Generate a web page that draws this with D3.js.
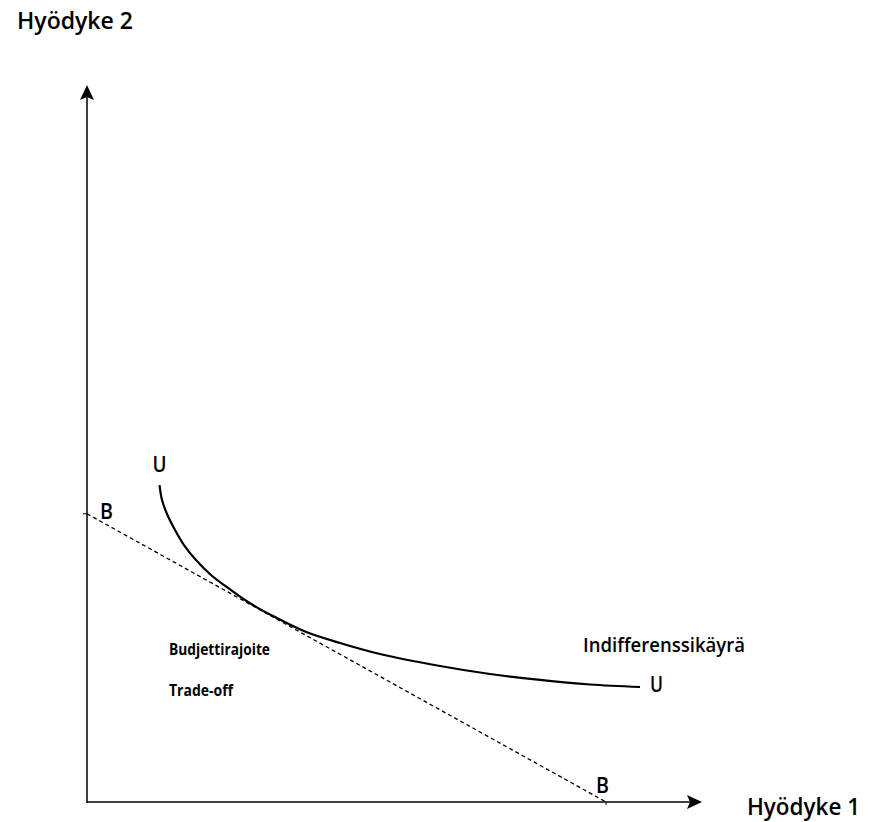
<!DOCTYPE html>
<html>
<head>
<meta charset="utf-8">
<script src="https://cdn.jsdelivr.net/npm/d3@7"></script>
<style>
  html, body { margin: 0; padding: 0; background: #fff; }
  svg { display: block; }
  text { font-family: "Open Sans", "Noto Sans", sans-serif; fill: #000; }
</style>
</head>
<body>
<svg id="chart" width="877" height="822"></svg>
<script>
// ---- data ----
const axisTitles = ["Hyödyke 1", "Hyödyke 2"];
const curveX = [11.79, 12.20, 13.01, 14.31, 15.77, 17.72, 20.16, 22.93, 26.18, 30.08, 35.45, 41.14, 47.64, 57.40, 65.53, 73.66, 81.79, 89.92];
const curveY = [44.21, 42.12, 40.17, 37.94, 35.84, 33.75, 31.66, 29.85, 27.89, 26.01, 23.78, 22.18, 20.64, 18.97, 17.85, 17.02, 16.39, 16.04];
const budgetX = [0, 84.4];
const budgetY = [40.2, 0];
const curveLabel = "Indifferenssikäyrä";
const budgetLabels = ["Budjettirajoite", "Trade-off"];
const pointLabels = ["U", "B"];

// ---- scales ----
const x = d3.scaleLinear().domain([0, 100]).range([87, 702]);
const y = d3.scaleLinear().domain([0, 100]).range([802, 85]);

const svg = d3.select("#chart");

// axes
const xMax = 100, yMax = 100;
svg.append("line").attr("x1", x(0)).attr("y1", y(0)).attr("x2", x(xMax) - 10).attr("y2", y(0))
  .attr("stroke", "#000").attr("stroke-width", 1.5);
svg.append("line").attr("x1", x(0)).attr("y1", y(0) + 1).attr("x2", x(0)).attr("y2", y(yMax) + 10)
  .attr("stroke", "#000").attr("stroke-width", 1.5);
// arrowheads
svg.append("path")
  .attr("d", `M${x(xMax)},${y(0)} L${x(xMax) - 15},${y(0) - 7} L${x(xMax) - 12},${y(0)} L${x(xMax) - 15},${y(0) + 7} Z`)
  .attr("fill", "#000");
svg.append("path")
  .attr("d", `M${x(0)},${y(yMax)} L${x(0) - 7},${y(yMax) + 15} L${x(0)},${y(yMax) + 12} L${x(0) + 7},${y(yMax) + 15} Z`)
  .attr("fill", "#000");

// small ticks where budget line meets axes
svg.append("line").attr("x1", x(0) - 4).attr("x2", x(0)).attr("y1", y(budgetY[0])).attr("y2", y(budgetY[0]))
  .attr("stroke", "#000").attr("stroke-width", 1);
svg.append("line").attr("x1", x(budgetX[1])).attr("x2", x(budgetX[1])).attr("y1", y(0)).attr("y2", y(0) + 3)
  .attr("stroke", "#000").attr("stroke-width", 1);

// budget line
const budget = budgetX.map((d, i) => [d, budgetY[i]]);
svg.append("path").datum(budget)
  .attr("d", d3.line().x(d => x(d[0])).y(d => y(d[1])))
  .attr("fill", "none").attr("stroke", "#000").attr("stroke-width", 1.3)
  .attr("stroke-dasharray", "4,3");

// indifference curve
const curve = curveX.map((d, i) => [d, curveY[i]]);
svg.append("path").datum(curve)
  .attr("d", d3.line().x(d => x(d[0])).y(d => y(d[1])).curve(d3.curveCatmullRom.alpha(0.5)))
  .attr("fill", "none").attr("stroke", "#000").attr("stroke-width", 2.2);

function label(tx, ty, str, size, weight, len) {
  const t = svg.append("text").attr("x", tx).attr("y", ty)
    .attr("font-size", size).attr("font-weight", weight).text(str);
  if (len) t.attr("textLength", len).attr("lengthAdjust", "spacingAndGlyphs");
  return t;
}

// axis titles
label(17, 29, axisTitles[1], 24, 600, 116);
label(747, 815, axisTitles[0], 24, 600, 113);

// curve labels
const first = curve[0], last = curve[curve.length - 1];
label(x(first[0]) - 7, y(first[1]) - 13, pointLabels[0], 22, 600, 14);
label(x(last[0]) + 10, y(last[1]) + 5, pointLabels[0], 21, 600, 13);
label(583, 652, curveLabel, 19, 600, 162);

// budget labels
label(x(0) + 13, y(budgetY[0]) + 5, pointLabels[1], 22, 600, 13);
label(x(budgetX[1]) - 10, y(0) - 9, pointLabels[1], 22, 600, 13);

label(169, 655, budgetLabels[0], 15.5, 700, 101);
label(169, 696, budgetLabels[1], 15.5, 700, 64);
</script>
</body>
</html>
